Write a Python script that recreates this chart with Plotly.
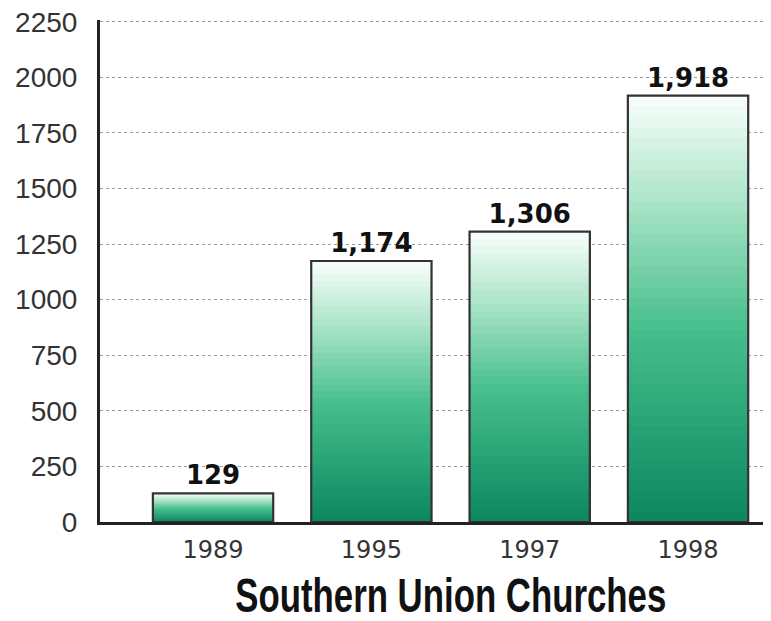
import plotly.graph_objects as go

years = ["1989", "1995", "1997", "1998"]
churches = [129, 1174, 1306, 1918]
value_labels = ["129", "1,174", "1,306", "1,918"]
y_ticks = [0, 250, 500, 750, 1000, 1250, 1500, 1750, 2000, 2250]
title_text = "Southern Union Churches"

stops = [(0.0, (12, 134, 95)), (0.45, (70, 190, 140)), (0.75, (170, 228, 200)), (1.0, (250, 254, 252))]
N = 40
bar_w = 0.76

def mix(t):
    for (t0, c0), (t1, c1) in zip(stops[:-1], stops[1:]):
        if t <= t1:
            f = (t - t0) / (t1 - t0)
            r = [round(c0[i] + (c1[i] - c0[i]) * f) for i in range(3)]
            return f"rgb({r[0]},{r[1]},{r[2]})"
    c = stops[-1][1]
    return f"rgb({c[0]},{c[1]},{c[2]})"

fig = go.Figure()
for k in range(N):
    band = N - k - 1
    frac = (N - k) / N
    fig.add_trace(go.Bar(
        x=years, y=[v * frac for v in churches], base=0, width=bar_w,
        marker=dict(color=mix((band + 0.5) / N), line=dict(width=0)),
        hoverinfo="skip", showlegend=False,
    ))

fig.add_trace(go.Bar(
    x=years, y=churches, base=0, width=bar_w,
    marker=dict(color="rgba(0,0,0,0)", line=dict(color="#333333", width=2.2)),
    text=value_labels, textposition="outside", cliponaxis=False,
    textfont=dict(family="DejaVu Sans", size=26, color="#111111", weight="bold"),
    showlegend=False,
))

fig.update_layout(
    barmode="overlay",
    width=771, height=621,
    margin=dict(l=92, r=8, t=12, b=107),
    paper_bgcolor="white", plot_bgcolor="white",
    font=dict(family="Liberation Sans, Arial", color="#222222"),
    xaxis=dict(
        type="category", range=[-0.714, 3.524], automargin=False,
        showline=True, linecolor="#222222", linewidth=2.5,
        ticks="", showgrid=False, ticklabelstandoff=4,
        tickfont=dict(family="DejaVu Sans", size=24, color="#333333"),
    ),
    yaxis=dict(
        range=[0, 2258], tickvals=y_ticks, automargin=False,
        showline=True, linecolor="#222222", linewidth=3,
        showgrid=True, gridcolor="#9a9a9a", griddash="dot", gridwidth=1,
        zeroline=False, ticks="", ticklabelstandoff=14,
        ticklabeloverflow="allow",
        tickfont=dict(family="Liberation Sans, Arial", size=28, color="#333333"),
    ),
    annotations=[dict(
        text=f"<b>{title_text}</b>", xref="paper", yref="paper",
        x=(443 - 92) / 671, y=-0.145, xanchor="center", yanchor="middle",
        showarrow=False,
        font=dict(family="Liberation Sans, Arial", size=40, color="#111111"),
    )],
)

post = """
document.querySelectorAll('.annotation-text').forEach(function(e){
  e.style.transformBox='fill-box';
  e.style.transformOrigin='center';
  e.style.transform='scale(0.87,1.22)';
});
"""

fig.write_html("out.html", post_script=post)
